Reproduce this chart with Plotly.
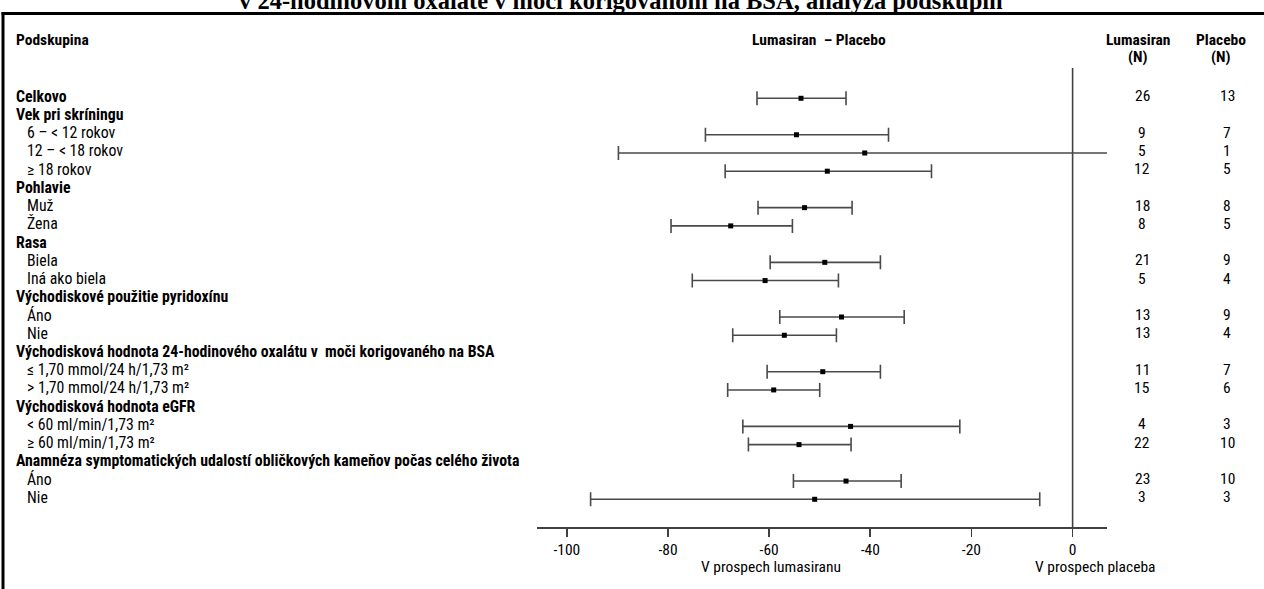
import plotly.graph_objects as go

# ---------------- data ----------------
row_labels = [
    "Celkovo",
    "Vek pri skríningu",
    "6 – < 12 rokov",
    "12 – < 18 rokov",
    "≥ 18 rokov",
    "Pohlavie",
    "Muž",
    "Žena",
    "Rasa",
    "Biela",
    "Iná ako biela",
    "Východiskové použitie pyridoxínu",
    "Áno",
    "Nie",
    "Východisková hodnota 24-hodinového oxalátu v  moči korigovaného na BSA",
    "≤ 1,70 mmol/24 h/1,73 m²",
    "> 1,70 mmol/24 h/1,73 m²",
    "Východisková hodnota eGFR",
    "< 60 ml/min/1,73 m²",
    "≥ 60 ml/min/1,73 m²",
    "Anamnéza symptomatických udalostí obličkových kameňov počas celého života",
    "Áno",
    "Nie",
]
header_rows = [0, 1, 5, 8, 11, 14, 17, 20]

estimate = [-53.7, None, -54.6, -41.1, -48.5, None, -53.0, -67.6, None, -49.0, -60.8,
            None, -45.7, -57.0, None, -49.4, -59.1, None, -43.9, -54.1, None, -44.8, -51.0]
ci_lower = [-62.4, None, -72.6, -89.8, -68.7, None, -62.2, -79.4, None, -59.8, -75.2,
            None, -57.9, -67.2, None, -60.4, -68.2, None, -65.2, -64.1, None, -55.2, -95.3]
ci_upper = [-44.8, None, -36.4, 8.0, -27.9, None, -43.6, -55.4, None, -38.0, -46.3,
            None, -33.3, -46.7, None, -38.0, -50.0, None, -22.3, -43.8, None, -33.9, -6.5]
n_lumasiran = ["26", "", "9", "5", "12", "", "18", "8", "", "21", "5",
               "", "13", "13", "", "11", "15", "", "4", "22", "", "23", "3"]
n_placebo = ["13", "", "7", "1", "5", "", "8", "5", "", "9", "4",
             "", "9", "4", "", "7", "6", "", "3", "10", "", "10", "3"]

x_ticks = [-100, -80, -60, -40, -20, 0]
title_text = "v 24-hodinovom oxaláte v moči korigovanom na BSA, analýza podskupín"
col_header_diff = "Lumasiran  – Placebo"
col_header_lum = ["Lumasiran", "(N)"]
col_header_pla = ["Placebo", "(N)"]
favours_left = "V prospech lumasiranu"
favours_right = "V prospech placeba"
subgroup_header = "Podskupina"

# ---------------- layout geometry ----------------
W, H = 1264, 589
ML, MR, MT, MB = 537, 157, 68, 62
PW, PH = W - ML - MR, H - MT - MB
X_RANGE = [-105.9, 6.8]
Y_RANGE = [23.52, -1.662]

FONT = "Roboto Condensed, Liberation Sans Narrow, Arial Narrow, sans-serif"
FS_ROW = 15.8
FS = 15.5


def pxx(px):
    return (px - ML) / PW


def pxy(py):
    return (H - MB - py) / PH


rows = list(range(len(row_labels)))
pt_rows = [r for r in rows if estimate[r] is not None]

fig = go.Figure()
fig.add_trace(go.Scatter(
    x=[estimate[r] for r in pt_rows],
    y=pt_rows,
    mode="markers",
    marker=dict(symbol="square", size=5, color="#000000"),
    error_x=dict(
        type="data", symmetric=False,
        array=[ci_upper[r] - estimate[r] for r in pt_rows],
        arrayminus=[estimate[r] - ci_lower[r] for r in pt_rows],
        color="#4a4a4a", thickness=1.6, width=7,
    ),
    hoverinfo="skip",
    showlegend=False,
))


def txt(x, y, text, size=FS, xanchor="center", xref="paper", yref="paper", yshift=0):
    return dict(x=x, xref=xref, y=y, yref=yref, text=text, showarrow=False,
                xanchor=xanchor, yanchor="middle", yshift=yshift,
                font=dict(family=FONT, size=size, color="#000000"))


annotations = []
for r in rows:
    bold = r in header_rows
    annotations.append(txt(pxx(14 if bold else 25), r,
                           ("<b>%s</b>" % row_labels[r]) if bold else row_labels[r],
                           size=FS_ROW, xanchor="left", yref="y", yshift=2))
    if n_lumasiran[r]:
        annotations.append(txt(pxx(1142), r, n_lumasiran[r], yref="y", yshift=2))
    if n_placebo[r]:
        annotations.append(txt(pxx(1227), r, n_placebo[r], yref="y", yshift=2))

annotations += [
    txt(pxx(14), pxy(40), "<b>%s</b>" % subgroup_header, xanchor="left"),
    txt(pxx(819), pxy(40), "<b>%s</b>" % col_header_diff),
    txt(pxx(1138), pxy(40), "<b>%s</b>" % col_header_lum[0]),
    txt(pxx(1138), pxy(57), "<b>%s</b>" % col_header_lum[1]),
    txt(pxx(1221), pxy(40), "<b>%s</b>" % col_header_pla[0]),
    txt(pxx(1221), pxy(57), "<b>%s</b>" % col_header_pla[1]),
    txt(-59.6, pxy(567), favours_left, xref="x"),
    txt(4.6, pxy(567), favours_right, xref="x"),
    dict(x=pxx(621), xref="paper", y=pxy(0.5), yref="paper", text="<b>%s</b>" % title_text,
         showarrow=False, xanchor="center", yanchor="middle",
         font=dict(family="Liberation Serif, Times New Roman, serif", size=24.5, color="#000000")),
]

shapes = [
    dict(type="line", xref="x", yref="paper", x0=0, x1=0, y0=0, y1=1,
         line=dict(color="#404040", width=1.6), layer="below"),
    dict(type="line", xref="paper", yref="paper", x0=pxx(1.5), x1=pxx(1264), y0=pxy(13.5), y1=pxy(13.5),
         line=dict(color="#000000", width=3)),
    dict(type="line", xref="paper", yref="paper", x0=pxx(3), x1=pxx(3), y0=pxy(12), y1=pxy(589),
         line=dict(color="#000000", width=3)),
]

fig.update_layout(
    width=W, height=H,
    margin=dict(l=ML, r=MR, t=MT, b=MB, pad=0),
    paper_bgcolor="#ffffff", plot_bgcolor="#ffffff",
    xaxis=dict(
        range=X_RANGE, tickmode="array", tickvals=x_ticks,
        ticktext=[str(t) for t in x_ticks],
        showgrid=False, zeroline=False,
        showline=True, linecolor="#404040", linewidth=1.6,
        ticks="outside", ticklen=8, tickwidth=1.6, tickcolor="#404040",
        tickfont=dict(family=FONT, size=FS, color="#000000"),
        fixedrange=True,
    ),
    yaxis=dict(range=Y_RANGE, visible=False, showgrid=False, zeroline=False, fixedrange=True),
    annotations=annotations,
    shapes=shapes,
    showlegend=False,
)

fig.write_html(
    "out.html",
    config={"displayModeBar": False, "staticPlot": True},
    post_script="document.body.style.margin='0';document.body.style.overflow='hidden';",
)
